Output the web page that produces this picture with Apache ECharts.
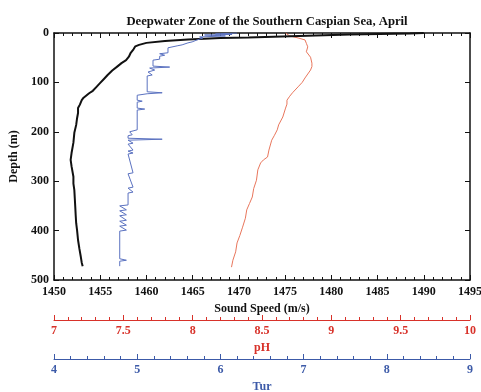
<!DOCTYPE html>
<html><head><meta charset="utf-8">
<script src="https://cdn.jsdelivr.net/npm/echarts@6/dist/echarts.min.js"></script>
<style>html,body{margin:0;padding:0;background:#fff}#c{width:481px;height:392px}</style>
</head><body><div id="c"></div>
<script>
// Sound speed profile: [depth (m), sound speed (m/s)]
const soundSpeed = [
  [0,1490],[1,1488.5],[3,1482],[6,1476.5],[9,1471],[10,1468],[13,1464.5],[16,1462],[20,1460],[24,1459.2],
  [27,1458.8],[33,1458.6],[40,1458.3],[48,1458.1],[55,1457.8],[61,1457.3],[67,1456.9],[76,1456.3],[85,1455.8],
  [93,1455.4],[101,1455.0],[109,1454.6],[117,1454.2],[122,1453.8],[126,1453.6],[131,1453.2],[136,1453.0],
  [145,1452.8],[152,1452.6],[162,1452.6],[172,1452.5],[186,1452.4],[202,1452.2],[222,1452.1],[243,1451.9],
  [257,1451.8],[270,1451.9],[291,1452.1],[305,1452.1],[318,1452.2],[335,1452.25],[352,1452.3],[370,1452.35],
  [385,1452.4],[400,1452.5],[419,1452.6],[437,1452.75],[453,1452.9],[465,1453.0],[472,1453.1]
];
// pH profile: [depth (m), pH]
const phProfile = [
  [0,8.67],[6,8.70],[10,8.76],[14,8.81],[21,8.82],[28,8.83],[38,8.82],[49,8.85],[61,8.86],[68,8.86],[75,8.85],
  [83,8.83],[91,8.81],[100,8.79],[109,8.76],[121,8.72],[128,8.70],[136,8.68],[144,8.68],[152,8.67],[170,8.65],
  [186,8.62],[196,8.61],[207,8.59],[217,8.57],[237,8.55],[251,8.54],[257,8.51],[263,8.49],[277,8.47],[298,8.46],
  [315,8.44],[332,8.43],[345,8.41],[358,8.39],[375,8.38],[393,8.36],[410,8.34],[425,8.32],[443,8.31],[460,8.29],[474,8.28]
];
// Turbidity profile: [depth (m), Tur]
const turProfile = [
  [0,6.20],[2,5.94],[3,6.14],[4,5.81],[6,6.06],[8,5.75],[10,5.79],[14,5.72],[18,5.66],[20,5.61],[24,5.54],[26,5.48],
  [30,5.37],[40,5.37],[42,5.27],[45,5.33],[47,5.27],[53,5.27],[55,5.19],[67,5.19],[69,5.39],[71,5.15],[75,5.21],
  [79,5.13],[85,5.18],[87,5.12],[119,5.12],[121,5.30],[123,5.12],[126,5.00],[136,5.00],[138,5.06],[140,5.00],
  [152,5.00],[154,5.09],[156,5.00],[196,5.00],[200,4.91],[206,4.94],[208,4.89],[213,4.89],[215,5.30],[217,4.89],
  [223,4.95],[225,4.89],[237,4.95],[239,4.89],[243,4.95],[245,4.89],[283,4.95],[285,4.89],[312,4.95],[314,4.89],
  [322,4.95],[324,4.89],[348,4.89],[350,4.79],[358,4.87],[360,4.79],[368,4.87],[370,4.79],[379,4.87],[381,4.79],
  [389,4.87],[391,4.79],[399,4.87],[401,4.79],[457,4.79],[460,4.87],[462,4.79],[472,4.79]
];
const titleText = 'Deepwater Zone of the Southern Caspian Sea, April';

const FONT = 'Liberation Serif';
const RED = '#d8322a', BLUE = '#3c5aa8';
function lbl(color){return {color:color,fontFamily:FONT,fontWeight:'bold',fontSize:12};}
const plain = v => String(v);
const chart = echarts.init(document.getElementById('c'), null, {renderer:'canvas'});
chart.setOption({
  animation:false,
  backgroundColor:'#fff',
  title:{text:titleText,left:262,top:10,textAlign:'center',
    textStyle:{fontFamily:FONT,fontWeight:'bold',fontSize:12.7,color:'#111'}},
  grid:{left:54,right:11,top:33,bottom:112,outerBoundsMode:'none',containLabel:false},
  xAxis:[
    {type:'value',position:'bottom',min:1450,max:1495,interval:5,
     name:'Sound Speed (m/s)',nameLocation:'middle',nameGap:21,nameTextStyle:lbl('#111'),
     axisLine:{onZero:false,lineStyle:{color:'#111',width:1.5}},
     axisTick:{inside:true,length:5,lineStyle:{color:'#111'}},
     minorTick:{show:true,splitNumber:5,length:3,lineStyle:{color:'#111'}},
     axisLabel:Object.assign(lbl('#111'),{margin:6,formatter:plain}),splitLine:{show:false}},
    {type:'value',position:'bottom',offset:40,min:7,max:10,interval:0.5,
     name:'pH',nameLocation:'middle',nameGap:15,nameTextStyle:lbl(RED),
     axisLine:{onZero:false,lineStyle:{color:RED,width:1}},
     axisTick:{inside:true,length:5,lineStyle:{color:RED}},
     minorTick:{show:true,splitNumber:5,length:3,lineStyle:{color:RED}},
     axisLabel:Object.assign(lbl(RED),{margin:5,formatter:plain}),splitLine:{show:false}},
    {type:'value',position:'bottom',offset:79,min:4,max:9,interval:1,
     name:'Tur',nameLocation:'middle',nameGap:21,nameTextStyle:lbl(BLUE),
     axisLine:{onZero:false,lineStyle:{color:BLUE,width:1}},
     axisTick:{inside:true,length:5,lineStyle:{color:BLUE}},
     minorTick:{show:true,splitNumber:5,length:3,lineStyle:{color:BLUE}},
     axisLabel:Object.assign(lbl(BLUE),{margin:5,formatter:plain}),splitLine:{show:false}},
    {type:'value',position:'top',min:1450,max:1495,interval:5,
     axisLine:{onZero:false,lineStyle:{color:'#111',width:1.5}},
     axisTick:{inside:true,length:5,lineStyle:{color:'#111'}},
     minorTick:{show:true,splitNumber:5,length:3,lineStyle:{color:'#111'}},
     axisLabel:{show:false},splitLine:{show:false}}
  ],
  yAxis:[
    {type:'value',inverse:true,min:0,max:500,interval:100,position:'left',
     name:'Depth (m)',nameLocation:'middle',nameGap:31,nameRotate:90,nameTextStyle:lbl('#111'),
     axisLine:{show:true,onZero:false,lineStyle:{color:'#111',width:1.5}},
     axisTick:{show:true,inside:true,length:5,lineStyle:{color:'#111'}},
     axisLabel:Object.assign(lbl('#111'),{margin:5,formatter:plain}),splitLine:{show:false}},
    {type:'value',inverse:true,min:0,max:500,interval:100,position:'right',
     axisLine:{show:true,onZero:false,lineStyle:{color:'#111',width:1.5}},
     axisTick:{show:true,inside:true,length:5,lineStyle:{color:'#111'}},
     axisLabel:{show:false},splitLine:{show:false}}
  ],
  series:[
    {type:'line',name:'pH',xAxisIndex:1,yAxisIndex:0,showSymbol:false,
     data:phProfile.map(p=>[p[1],p[0]]),lineStyle:{color:'#e8765c',width:1}},
    {type:'line',name:'Sound Speed',xAxisIndex:0,yAxisIndex:0,showSymbol:false,
     data:soundSpeed.map(p=>[p[1],p[0]]),lineStyle:{color:'#111',width:2}},
    {type:'line',name:'Tur',xAxisIndex:2,yAxisIndex:0,showSymbol:false,
     data:turProfile.map(p=>[p[1],p[0]]),lineStyle:{color:'#5b72c0',width:1}}
  ]
});
</script></body></html>
